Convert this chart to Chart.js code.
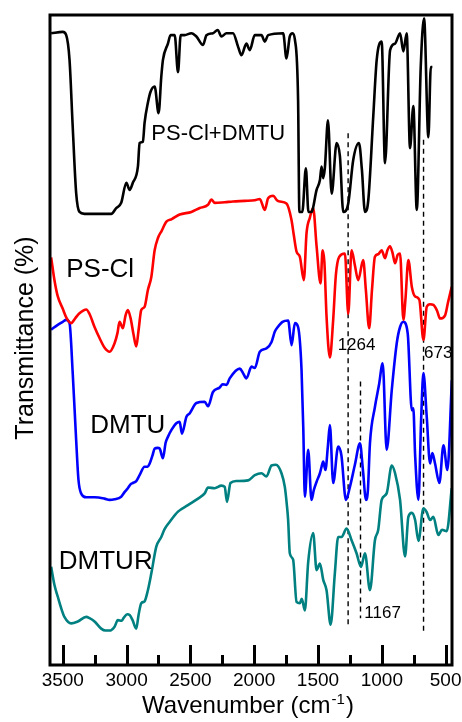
<!DOCTYPE html>
<html>
<head>
<meta charset="utf-8">
<script src="https://cdn.jsdelivr.net/npm/chart.js@4.4.0/dist/chart.umd.min.js"></script>
<style>
  html, body { margin: 0; padding: 0; background: #fff; }
</style>
</head>
<body>
<canvas id="ftir" width="462" height="722"></canvas>
<script>
// FTIR spectra: PS-Cl+DMTU, PS-Cl, DMTU, DMTUR (offset traces, arbitrary T units)

var FONT = '"Liberation Sans", Arial, sans-serif';

var X_MIN = 450, X_MAX = 3600;
var X_TICKS = [3500, 3000, 2500, 2000, 1500, 1000, 500];
var X_MINOR = [3250, 2750, 2250, 1750, 1250, 750];

// PS-Cl+DMTU (black)
var mixWn = [3591, 3500, 3473, 3447, 3422, 3395, 3369, 3330, 3120, 3081, 3042, 3002, 2976, 2951, 2911, 2898,
  2872, 2859, 2833, 2812, 2780, 2749, 2728, 2715, 2676, 2655, 2623, 2597, 2576, 2545, 2492, 2453, 2401, 2374,
  2323, 2286, 2257, 2217, 2166, 2126, 2100, 2061, 2035, 1995, 1943, 1917, 1891, 1773, 1747, 1721, 1699, 1681,
  1656, 1646, 1623, 1595, 1575, 1552, 1511, 1485, 1472, 1459, 1446, 1422, 1393, 1354, 1328, 1302, 1263, 1224,
  1179, 1156, 1132, 1106, 1067, 1040, 1001, 975, 935, 896, 857, 831, 805, 779, 753, 726, 695, 669, 635, 616, 604];
var mixT = [97.2, 97.4, 96.9, 93.1, 82.8, 72.6, 69.7, 69.4, 69.4, 70.3, 71.1, 74.2, 73.1, 74.2, 76.7, 80.3,
  80.5, 83.4, 86.5, 88.2, 89.0, 84.9, 90.5, 93.1, 95.6, 96.9, 96.9, 91.2, 96.9, 96.9, 97.2, 96.7, 95.4, 96.9,
  97.2, 97.7, 96.7, 97.2, 97.2, 95.1, 93.8, 95.6, 94.6, 96.9, 96.9, 95.9, 96.9, 97.2, 93.3, 96.7, 97.2, 96.2,
  86.9, 69.7, 69.7, 76.4, 69.7, 69.7, 73.1, 74.6, 76.7, 74.9, 76.5, 83.8, 72.5, 80.3, 78.2, 69.7, 71.0, 77.7,
  80.3, 76.2, 69.7, 71.5, 84.4, 93.1, 95.9, 77.2, 94.6, 95.6, 97.2, 94.4, 97.2, 79.5, 86.0, 70.0, 92.0, 99.5, 81.2, 92.0, 92.0];

// PS-Cl (red)
var psclWn = [3591, 3565, 3539, 3500, 3471, 3434, 3400, 3369, 3316, 3290, 3251, 3212, 3172, 3133, 3094, 3071,
  3055, 3029, 3008, 2990, 2969, 2945, 2924, 2906, 2885, 2859, 2833, 2806, 2780, 2754, 2725, 2688, 2646, 2584,
  2492, 2427, 2362, 2335, 2309, 2231, 2166, 2074, 1995, 1956, 1917, 1891, 1851, 1822, 1799, 1747, 1708, 1690,
  1668, 1642, 1611, 1590, 1564, 1538, 1511, 1480, 1464, 1450, 1433, 1407, 1381, 1360, 1334, 1289, 1263, 1237,
  1211, 1185, 1146, 1125, 1099, 1077, 1054, 1028, 1001, 975, 956, 936, 917, 896, 876, 857, 831, 815, 792, 765,
  739, 706, 674, 648, 622, 596, 567, 543, 504, 481, 452];
var psclT = [62.7, 59.2, 56.7, 54.8, 53.4, 52.6, 53.4, 54.1, 54.7, 54.0, 52.0, 50.3, 48.8, 48.2, 49.5, 51.1,
  52.8, 51.8, 53.8, 54.6, 53.4, 50.8, 49.0, 51.5, 54.6, 55.1, 57.7, 59.7, 63.8, 65.7, 66.8, 68.2, 68.6, 69.3,
  69.7, 70.3, 70.8, 71.6, 71.1, 71.2, 71.3, 71.4, 71.5, 71.7, 70.0, 71.8, 72.2, 71.5, 71.3, 71.0, 68.5, 66.2,
  63.6, 62.8, 59.2, 66.4, 68.8, 70.3, 64.4, 58.7, 63.8, 62.0, 53.6, 47.3, 53.1, 60.0, 62.8, 63.3, 54.0, 63.8,
  61.5, 59.2, 62.3, 57.7, 51.8, 57.7, 62.8, 63.2, 63.8, 62.6, 63.8, 64.4, 63.5, 61.8, 63.1, 63.3, 53.1, 56.2, 62.3, 58.2,
  56.7, 56.2, 50.0, 55.1, 55.5, 55.4, 54.5, 53.3, 53.8, 55.8, 58.2];

// DMTU (blue)
var dmtuWn = [3591, 3542, 3500, 3473, 3447, 3422, 3395, 3377, 3356, 3316, 3251, 3173, 3133, 3094, 3042, 3016,
  2990, 2969, 2951, 2924, 2898, 2859, 2835, 2819, 2796, 2780, 2757, 2741, 2715, 2694, 2676, 2647, 2610, 2584,
  2566, 2531, 2506, 2453, 2388, 2362, 2323, 2270, 2247, 2217, 2192, 2113, 2087, 2061, 2021, 1995, 1956, 1904,
  1864, 1838, 1815, 1778, 1734, 1707, 1681, 1656, 1629, 1615, 1603, 1577, 1551, 1533, 1511, 1485, 1472, 1459,
  1442, 1422, 1407, 1381, 1342, 1317, 1281, 1250, 1211, 1171, 1148, 1124, 1109, 1093, 1054, 1022, 993, 962,
  922, 883, 857, 831, 797, 765, 753, 739, 713, 692, 674, 648, 622, 604, 583, 549, 517, 486, 451];
var dmtuT = [51.6, 52.3, 52.8, 53.1, 52.6, 44.9, 34.6, 28.5, 26.4, 25.8, 25.8, 25.6, 25.4, 25.5, 25.9, 26.6,
  27.2, 27.8, 28.0, 28.3, 29.2, 30.5, 30.5, 31.0, 32.3, 33.3, 33.4, 33.3, 31.8, 34.2, 35.1, 36.2, 37.2, 37.4,
  35.6, 38.2, 38.7, 40.3, 40.5, 39.8, 42.0, 42.7, 43.2, 43.1, 44.1, 45.6, 44.9, 44.1, 45.9, 45.7, 48.2, 48.7,
  49.7, 51.3, 52.0, 52.8, 53.0, 49.2, 52.6, 52.0, 45.4, 36.2, 25.9, 33.1, 25.4, 26.9, 28.2, 29.5, 30.5, 31.3,
  30.0, 33.8, 36.9, 28.0, 33.6, 32.3, 25.4, 27.4, 30.8, 34.1, 30.0, 25.4, 26.9, 34.1, 39.7, 43.1, 46.4, 33.1,
  42.3, 49.5, 52.0, 52.8, 51.0, 39.2, 39.5, 32.3, 25.4, 37.7, 44.9, 38.2, 31.0, 32.6, 31.0, 28.0, 33.8, 30.0, 43.8];

// DMTUR (teal)
var dmturWn = [3591, 3565, 3539, 3510, 3487, 3434, 3382, 3316, 3290, 3251, 3199, 3165, 3133, 3094, 3068, 3039,
  3024, 2995, 2976, 2953, 2924, 2906, 2885, 2859, 2833, 2806, 2767, 2728, 2702, 2663, 2597, 2519, 2440, 2388,
  2362, 2309, 2257, 2231, 2213, 2186, 2139, 2048, 1995, 1943, 1904, 1864, 1830, 1786, 1760, 1744, 1734, 1721,
  1695, 1668, 1642, 1627, 1603, 1577, 1538, 1511, 1485, 1459, 1433, 1401, 1368, 1342, 1315, 1276, 1237, 1198,
  1163, 1132, 1093, 1054, 1028, 1001, 962, 922, 896, 857, 818, 792, 765, 739, 713, 674, 648, 622, 596, 557,
  528, 491, 452];
var dmturT = [15.1, 12.3, 10.5, 8.6, 7.4, 6.4, 6.7, 7.4, 7.2, 6.7, 5.6, 5.3, 5.3, 5.9, 6.9, 6.8,
  7.2, 7.8, 7.7, 6.9, 5.6, 7.7, 9.5, 9.8, 11.5, 14.1, 18.2, 19.7, 20.9, 22.0, 23.6, 24.6, 25.6, 26.4,
  27.3, 27.2, 27.6, 27.4, 25.1, 28.0, 28.3, 28.4, 29.2, 29.5, 29.0, 30.7, 30.8, 29.5, 27.4, 24.6, 22.3, 17.2,
  16.2, 9.7, 9.5, 10.2, 8.4, 15.8, 20.3, 14.6, 15.6, 13.1, 11.5, 6.2, 14.1, 19.7, 19.7, 21.0, 19.2, 17.2,
  15.1, 17.2, 11.5, 19.2, 20.8, 25.4, 26.4, 30.7, 29.5, 25.4, 16.7, 22.8, 23.4, 22.3, 19.1, 24.1, 23.5, 22.3, 22.8, 20.0,
  20.8, 20.6, 27.2];

// dashed guide lines at assigned bands
var markWn = [1264, 1167, 673];
var markTop = [81.8, 43.6, 80.8];
var markBottom = [5.8, 7.2, 5.1];

// text annotations, anchored in data coordinates (left edge, baseline)
var LABELS = [
  { text: "PS-Cl+DMTU", wn: 2806, t: 80.8, size: 22 },
  { text: "PS-Cl",      wn: 3473, t: 59.7, size: 26 },
  { text: "DMTU",       wn: 3285, t: 35.7, size: 26 },
  { text: "DMTUR",      wn: 3531, t: 14.7, size: 26 },
  { text: "1264",       wn: 1346, t: 48.4, size: 17 },
  { text: "673",        wn: 669,  t: 47.3, size: 17 },
  { text: "1167",       wn: 1137, t: 7.3,  size: 17 },
];

function toXY(wn, t) {
  return wn.map(function(w, i) { return { x: w, y: t[i] }; });
}

function traceSet(label, wn, t, color) {
  return {
    label: label,
    data: toXY(wn, t),
    borderColor: color,
    borderWidth: 2.6,
    pointRadius: 0,
    fill: false,
    cubicInterpolationMode: "monotone",
  };
}

var datasets = [
  traceSet("PS-Cl+DMTU", mixWn, mixT, "#000000"),
  traceSet("PS-Cl", psclWn, psclT, "#ff0000"),
  traceSet("DMTU", dmtuWn, dmtuT, "#0000ff"),
  traceSet("DMTUR", dmturWn, dmturT, "#008080"),
];

markWn.forEach(function(w, i) {
  datasets.push({
    label: "mark" + w,
    data: [{ x: w, y: markTop[i] }, { x: w, y: markBottom[i] }],
    borderColor: "#000000",
    borderWidth: 1.4,
    borderDash: [5, 4],
    pointRadius: 0,
    fill: false,
  });
});

var decorPlugin = {
  id: "decor",
  afterDatasetsDraw: function(chart) {
    var ctx = chart.ctx;
    var a = chart.chartArea;
    var xs = chart.scales.x, ys = chart.scales.y;
    ctx.save();

    // annotations
    ctx.fillStyle = "#000";
    ctx.textAlign = "left";
    ctx.textBaseline = "alphabetic";
    LABELS.forEach(function(l) {
      ctx.font = l.size + "px " + FONT;
      ctx.fillText(l.text, xs.getPixelForValue(l.wn), ys.getPixelForValue(l.t));
    });

    // frame
    ctx.strokeStyle = "#000";
    ctx.lineWidth = 3;
    ctx.strokeRect(a.left, a.top, a.right - a.left, a.bottom - a.top);

    // inward ticks on the bottom axis
    ctx.beginPath();
    X_TICKS.forEach(function(v) {
      var px = Math.round(xs.getPixelForValue(v)) + 0.5;
      ctx.moveTo(px, a.bottom);
      ctx.lineTo(px, a.bottom - 20);
    });
    X_MINOR.forEach(function(v) {
      var px = Math.round(xs.getPixelForValue(v)) + 0.5;
      ctx.moveTo(px, a.bottom);
      ctx.lineTo(px, a.bottom - 10);
    });
    ctx.stroke();

    // y title
    ctx.save();
    ctx.translate(33, 338);
    ctx.rotate(-Math.PI / 2);
    ctx.font = "25px " + FONT;
    ctx.textAlign = "center";
    ctx.fillText("Transmittance (%)", 0, 0);
    ctx.restore();

    // x title with superscript
    var main = "Wavenumber (cm", sup = "-1", tail = ")";
    ctx.font = "24px " + FONT;
    var wMain = ctx.measureText(main).width, wTail = ctx.measureText(tail).width;
    ctx.font = "15px " + FONT;
    var wSup = ctx.measureText(sup).width;
    var x0 = 247 - (wMain + wSup + wTail) / 2;
    var base = 713;
    ctx.textAlign = "left";
    ctx.font = "24px " + FONT;
    ctx.fillText(main, x0, base);
    ctx.font = "15px " + FONT;
    ctx.fillText(sup, x0 + wMain + 1, base - 9);
    ctx.font = "24px " + FONT;
    ctx.fillText(tail, x0 + wMain + wSup + 2, base);

    ctx.restore();
  }
};

new Chart(document.getElementById("ftir"), {
  type: "line",
  data: { datasets: datasets },
  options: {
    responsive: false,
    animation: false,
    layout: { padding: { left: 50, right: 10, top: 15, bottom: 0 } },
    plugins: { legend: { display: false }, tooltip: { enabled: false } },
    scales: {
      x: {
        type: "linear",
        reverse: true,
        min: X_MIN,
        max: X_MAX,
        grid: { display: false, drawTicks: false },
        border: { display: false },
        afterBuildTicks: function(scale) {
          scale.ticks = X_TICKS.map(function(v) { return { value: v }; });
        },
        afterFit: function(scale) {
          scale.height = 57;
          scale.paddingLeft = 0;
          scale.paddingRight = 0;
        },
        ticks: {
          autoSkip: false,
          maxRotation: 0,
          padding: 4,
          color: "#000",
          font: { family: FONT, size: 19 },
          callback: function(v) { return String(v); },
        },
      },
      y: {
        display: false,
        min: 0,
        max: 100,
      },
    },
  },
  plugins: [decorPlugin],
});
</script>
</body>
</html>
